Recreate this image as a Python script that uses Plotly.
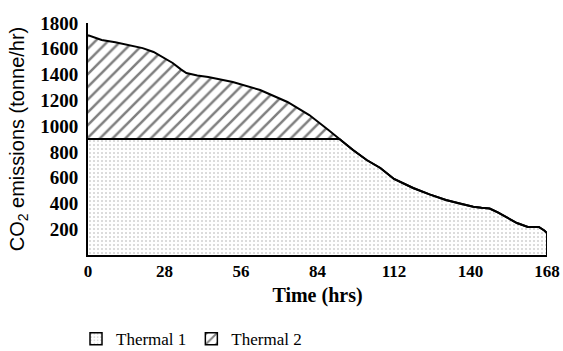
import plotly.graph_objects as go

time_hrs = [0, 5, 10, 15, 20, 24, 28, 31, 34, 36, 40, 44, 53, 63, 73, 81, 88, 92, 97, 102, 107, 112, 119, 125, 131, 136, 141, 144, 147, 150, 153, 157, 161, 165, 167, 168, 168]
total_emis = [1705, 1668, 1650, 1630, 1605, 1575, 1530, 1490, 1440, 1412, 1392, 1381, 1342, 1280, 1187, 1086, 970, 900, 815, 737, 675, 590, 520, 470, 427, 400, 375, 366, 360, 330, 295, 248, 217, 217, 190, 170, 0]
thermal1_cap = 900
x_ticks = [0, 28, 56, 84, 112, 140, 168]
y_ticks = [200, 400, 600, 800, 1000, 1200, 1400, 1600, 1800]

thermal1 = [min(v, thermal1_cap) for v in total_emis]

serif = "Liberation Serif, Times New Roman, serif"
stipple = dict(shape=".", fgcolor="#a8a8a8", bgcolor="white", size=4, solidity=0.22)
hatch = dict(shape="/", fgcolor="black", bgcolor="white", size=9, solidity=0.28)

fig = go.Figure()
# filled areas
fig.add_trace(go.Scatter(
    x=time_hrs, y=thermal1, mode="lines", line=dict(color="black", width=2),
    fill="tozeroy", fillcolor="white", fillpattern=stipple, showlegend=False,
))
fig.add_trace(go.Scatter(
    x=time_hrs, y=total_emis, mode="lines", line=dict(color="black", width=2),
    fill="tonexty", fillcolor="white", fillpattern=hatch, showlegend=False,
))
# legend entries (square swatches)
fig.add_trace(go.Bar(x=[None], y=[None], name="Thermal 1",
                     marker=dict(color="white", pattern=stipple, line=dict(color="black", width=1.5))))
fig.add_trace(go.Bar(x=[None], y=[None], name="Thermal 2",
                     marker=dict(color="white", pattern=hatch, line=dict(color="black", width=1.5))))

fig.update_layout(
    width=563, height=351,
    margin=dict(l=88, r=16, t=23, b=96, autoexpand=False),
    plot_bgcolor="white", paper_bgcolor="white",
    font=dict(family=serif, color="black"),
    showlegend=True,
    legend=dict(orientation="h", xref="container", x=0.135, xanchor="left",
                yref="container", y=0.085, yanchor="top",
                traceorder="normal",
                font=dict(family=serif, size=17), itemwidth=30,
                bgcolor="rgba(0,0,0,0)"),
    xaxis=dict(range=[0, 168], tickvals=x_ticks, showgrid=False, zeroline=False,
               showline=True, linecolor="black", linewidth=2, ticks="", automargin=False,
               tickfont=dict(family=serif, size=17, weight="bold"),
               title=dict(text="Time (hrs)", font=dict(family=serif, size=20, weight="bold"), standoff=8)),
    yaxis=dict(range=[0, 1800], tickvals=y_ticks, showgrid=False, zeroline=False,
               showline=True, linecolor="black", linewidth=2, ticks="", automargin=False,
               ticklabelstandoff=4,
               tickfont=dict(family=serif, size=19, weight="bold"),
               title=dict(text="CO<sub>2</sub> emissions (tonne/hr)",
                          font=dict(family="Liberation Sans, Arial, sans-serif", size=20), standoff=10)),
)

fig.write_html("out.html", config={"displayModeBar": False},
               post_script="document.body.style.margin='0';document.body.style.overflow='hidden';")
